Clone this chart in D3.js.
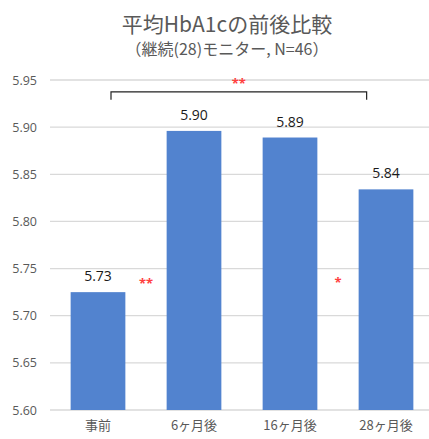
<!DOCTYPE html>
<html><head><meta charset="utf-8">
<script src="https://cdn.jsdelivr.net/npm/d3@7"></script>
<style>
body{margin:0;background:#fff;}
svg{display:block;}
</style></head>
<body><svg id="c" width="429" height="439"></svg>
<script>
const categories = ["事前", "6ヶ月後", "16ヶ月後", "28ヶ月後"];
const values = [5.725, 5.896, 5.889, 5.834];
const valueLabels = ["5.73", "5.90", "5.89", "5.84"];
const yTicks = [5.60, 5.65, 5.70, 5.75, 5.80, 5.85, 5.90, 5.95];
const titleText = "平均HbA1cの前後比較";
const subtitleText = "（継続(28)モニター, N=46）";

const svg = d3.select("#c");
const numFont = "'Open Sans','Noto Sans',sans-serif";
const jpFont = "'Noto Sans CJK JP','Noto Sans',sans-serif";
const gray = "#595959";

const x = d3.scaleBand().domain(categories).range([50, 434]).paddingInner(0.43).paddingOuter(0.215);
const y = d3.scaleLinear().domain([5.60, 5.95]).range([410, 80]);

// gridlines
svg.append("g").selectAll("line").data(yTicks).join("line")
  .attr("x1", 50).attr("x2", 429)
  .attr("y1", d => y(d)).attr("y2", d => y(d))
  .attr("stroke", "#d9d9d9").attr("stroke-width", 1.3);

// y axis labels
const yAxis = d3.axisLeft(y).tickValues(yTicks).tickFormat(d3.format(".2f")).tickSize(0).tickPadding(0);
const ga = svg.append("g").attr("transform", "translate(37,0)").call(yAxis);
ga.select(".domain").remove();
ga.selectAll("text").attr("font-family", numFont).attr("font-size", 12.5).attr("fill", gray);

// bars
svg.append("g").selectAll("rect").data(values).join("rect")
  .attr("x", (d, i) => x(categories[i]))
  .attr("width", x.bandwidth())
  .attr("y", d => y(d))
  .attr("height", d => y(5.60) - y(d))
  .attr("fill", "#5283cf");

// value labels
svg.append("g").selectAll("text").data(values).join("text")
  .attr("x", (d, i) => x(categories[i]) + x.bandwidth() / 2)
  .attr("y", d => y(d) - 11)
  .attr("text-anchor", "middle")
  .attr("font-family", numFont).attr("font-size", 14).attr("fill", "#1a1a1a")
  .text((d, i) => valueLabels[i]);

// x axis labels
const xAxis = d3.axisBottom(x).tickSize(0).tickPadding(0);
const gx = svg.append("g").attr("transform", "translate(0,418)").call(xAxis);
gx.select(".domain").remove();
gx.selectAll("text").attr("font-family", jpFont).attr("font-size", 13).attr("fill", gray).attr("dy", "0.9em");

// title
svg.append("text").attr("x", 227).attr("y", 32).attr("text-anchor", "middle")
  .attr("font-family", jpFont).attr("font-size", 21).attr("fill", gray).text(titleText);
svg.append("text").attr("x", 227).attr("y", 55).attr("text-anchor", "middle")
  .attr("font-family", jpFont).attr("font-size", 16).attr("fill", gray).text(subtitleText);

// significance bracket
const bx1 = x(categories[0]) + x.bandwidth() / 2 + 13;
const bx2 = x(categories[3]) + 8;
const by = y(5.9375);
svg.append("path")
  .attr("d", `M${bx1},${by + 8}V${by}H${bx2}V${by + 8}`)
  .attr("fill", "none").attr("stroke", "#222").attr("stroke-width", 1.2);
const red = "#ff4040";
svg.append("text").attr("x", (bx1 + bx2) / 2).attr("y", y(5.95) + 8).attr("text-anchor", "middle")
  .attr("font-family", numFont).attr("font-size", 13).attr("font-weight", "bold").attr("fill", red).text("**");
svg.append("text").attr("x", (x(categories[0]) + x.bandwidth() + x(categories[1])) / 2).attr("y", y(5.73) + 1).attr("text-anchor", "middle")
  .attr("font-family", numFont).attr("font-size", 13).attr("font-weight", "bold").attr("fill", red).text("**");
svg.append("text").attr("x", (x(categories[2]) + x.bandwidth() + x(categories[3])) / 2).attr("y", y(5.73)).attr("text-anchor", "middle")
  .attr("font-family", numFont).attr("font-size", 13).attr("font-weight", "bold").attr("fill", red).text("*");
</script></body></html>
